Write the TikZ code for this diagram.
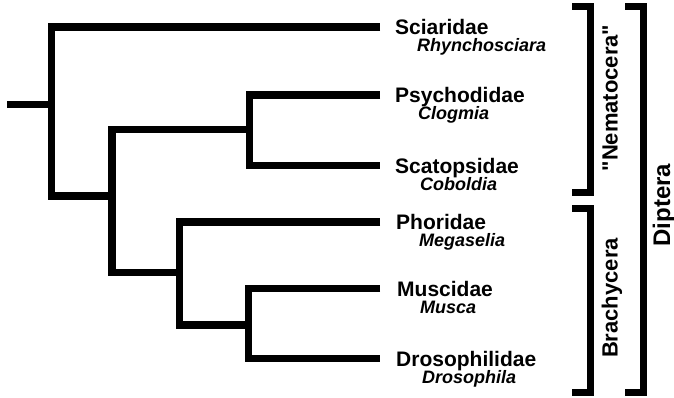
\documentclass[tikz,border=0pt]{standalone}
\usepackage{fontspec}
\setmainfont{Liberation Sans}
\begin{document}
\begin{tikzpicture}[x=1pt,y=-1pt,
  branch/.style={line width=7.2pt,line join=miter,line cap=butt},
  clamp/.style={line width=7pt,line join=miter,line cap=butt},
  family/.style={anchor=base west,inner sep=0pt,font=\fontsize{21}{21}\selectfont\bfseries},
  species/.style={anchor=base west,inner sep=0pt,font=\fontsize{18}{18}\selectfont\bfseries\itshape},
  group/.style={anchor=base,rotate=90,inner sep=0pt,font=\fontsize{22}{22}\selectfont\bfseries}]
\useasboundingbox (0,0) rectangle (674,397);
% internal nodes and tips
\coordinate (r0) at (7,104.5);
\coordinate (Rm) at (51.5,104.5);
\coordinate (Aj) at (112,196);
\coordinate (Bj) at (249.5,129.5);
\coordinate (Cj) at (179.5,272.5);
\coordinate (Dj) at (248.5,325);
\coordinate (tS) at (380,27);
\coordinate (tP) at (380,95);
\coordinate (tSc) at (380,165.5);
\coordinate (tPh) at (380,222);
\coordinate (tM) at (380,288.5);
\coordinate (tD) at (380,358.5);
% tree
\draw[branch] (r0) -- (Rm);
\draw[branch] (tS) -| (Rm) |- (Aj);
\draw[branch] (Bj) -| (Aj) |- (Cj);
\draw[branch] (tP) -| (Bj) |- (tSc);
\draw[branch] (tPh) -| (Cj) |- (Dj);
\draw[branch] (tM) -| (Dj) |- (tD);
% labels
\node[family] (fS) at (395,34) {Sciaridae};
\node[species] (sS) at (417,51) {Rhynchosciara};
\node[family] (fP) at (395,102.5) {Psychodidae};
\node[species] (sP) at (418,119.5) {Clogmia};
\node[family] (fSc) at (395,173) {Scatopsidae};
\node[species] (sSc) at (420,190) {Coboldia};
\node[family] (fPh) at (396,229.5) {Phoridae};
\node[species] (sPh) at (419,246.5) {Megaselia};
\node[family] (fM) at (397,296) {Muscidae};
\node[species] (sM) at (420,313) {Musca};
\node[family] (fD) at (396,366) {Drosophilidae};
\node[species] (sD) at (422,383) {Drosophila};
% brackets
\coordinate (n1) at (572,6);
\coordinate (n2) at (572,192);
\coordinate (b1) at (572,208.5);
\coordinate (b2) at (572,392.5);
\coordinate (d1) at (625,6);
\coordinate (d2) at (625,392.5);
\draw[clamp] (n1) -- (590,6) -- (590,192) -- (n2);
\draw[clamp] (b1) -- (590,208.5) -- (590,392.5) -- (b2);
\draw[clamp] (d1) -- (643.5,6) -- (643.5,392.5) -- (d2);
\node[group] (gN) at (617.5,98) {\textquotedbl Nematocera\textquotedbl};
\node[group] (gB) at (617.5,298) {Brachycera};
\node[group,font=\fontsize{24}{24}\selectfont\bfseries] (gD) at (670,205) {Diptera};
\end{tikzpicture}
\end{document}
